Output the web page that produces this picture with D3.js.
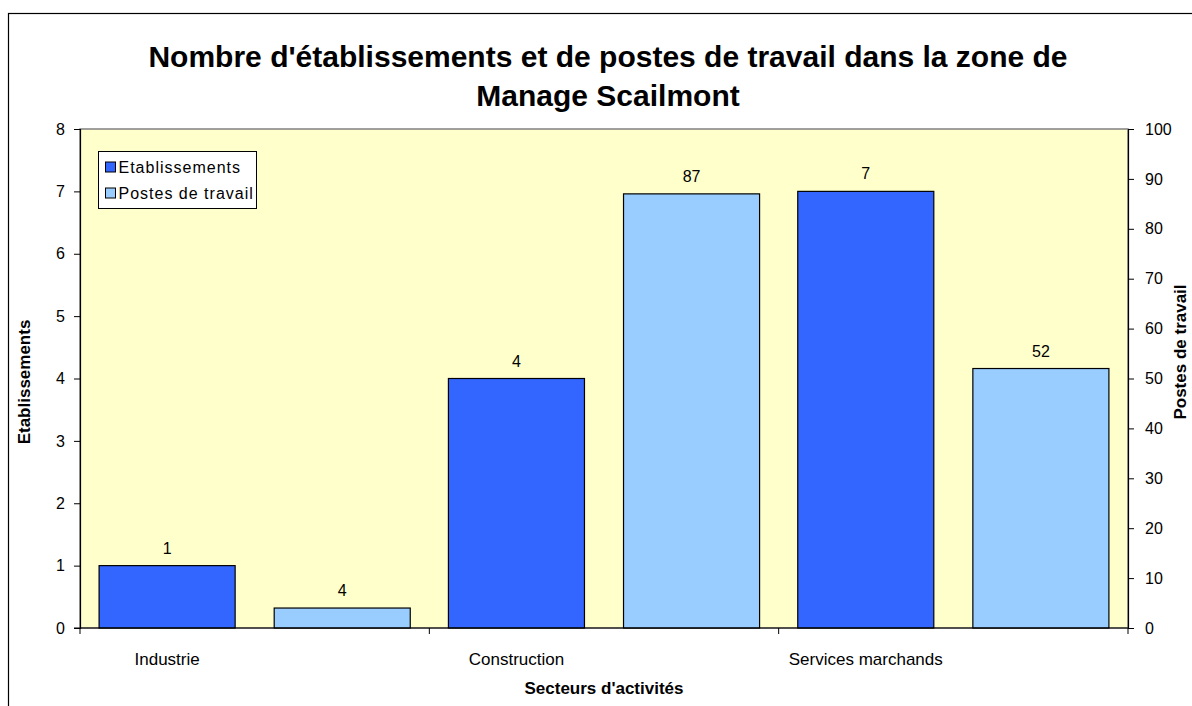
<!DOCTYPE html>
<html>
<head>
<meta charset="utf-8">
<script src="https://cdn.jsdelivr.net/npm/d3@7"></script>
<style>
  body { margin: 0; background: #fff; }
  text { font-family: "Liberation Sans", Arial, sans-serif; fill: #000; }
</style>
</head>
<body>
<div id="chart"></div>
<script>
// data
var categories = ["Industrie", "Construction", "Services marchands"];
var seriesNames = ["Etablissements", "Postes de travail"];
var etablissements = [1, 4, 7];
var postes = [4, 87, 52];
var leftTicks = [0, 1, 2, 3, 4, 5, 6, 7, 8];
var rightTicks = [0, 10, 20, 30, 40, 50, 60, 70, 80, 90, 100];

var width = 1192, height = 706;
var margin = {left: 80, right: 64, top: 129, bottom: 78};
var colors = ["#3366FF", "#99CCFF"];

var svg = d3.select("#chart").append("svg")
    .attr("width", width)
    .attr("height", height);

// outer chart border (runs off the right and bottom edge)
svg.append("rect")
    .attr("x", 8.5).attr("y", 13.5)
    .attr("width", 1300).attr("height", 800)
    .attr("fill", "none").attr("stroke", "#000").attr("stroke-width", 1.2);

var x0 = d3.scaleBand()
    .domain(categories)
    .range([margin.left, width - margin.right]);

var x1 = d3.scaleBand()
    .domain(seriesNames)
    .range([0, x0.bandwidth()])
    .paddingInner(0.223)
    .paddingOuter(0.109);

var yL = d3.scaleLinear().domain([0, 8]).range([height - margin.bottom, margin.top]);
var yR = d3.scaleLinear().domain([0, 100]).range([height - margin.bottom, margin.top]);

// plot area
svg.append("rect")
    .attr("x", margin.left).attr("y", margin.top)
    .attr("width", width - margin.left - margin.right)
    .attr("height", height - margin.top - margin.bottom)
    .attr("fill", "#FFFFCC")
    .attr("stroke", "#808080").attr("stroke-width", 1.5);

// title
svg.append("text")
    .attr("x", 608).attr("y", 67)
    .attr("text-anchor", "middle")
    .style("font-size", "30px").style("font-weight", "bold")
    .text("Nombre d'établissements et de postes de travail dans la zone de");
svg.append("text")
    .attr("x", 608).attr("y", 106)
    .attr("text-anchor", "middle")
    .style("font-size", "30px").style("font-weight", "bold")
    .text("Manage Scailmont");

// bars
var rows = categories.map(function(c, i) {
    return [
        {cat: c, s: seriesNames[0], v: etablissements[i], y: yL, color: colors[0]},
        {cat: c, s: seriesNames[1], v: postes[i], y: yR, color: colors[1]}
    ];
});

var groups = svg.selectAll("g.cat")
    .data(rows)
    .enter().append("g")
    .attr("class", "cat")
    .attr("transform", function(d, i) { return "translate(" + x0(categories[i]) + ",0)"; });

groups.selectAll("rect")
    .data(function(d) { return d; })
    .enter().append("rect")
    .attr("x", function(d) { return x1(d.s); })
    .attr("y", function(d) { return d.y(d.v); })
    .attr("width", x1.bandwidth())
    .attr("height", function(d) { return d.y(0) - d.y(d.v); })
    .attr("fill", function(d) { return d.color; })
    .attr("stroke", "#000").attr("stroke-width", 1.2);

groups.selectAll("text.val")
    .data(function(d) { return d; })
    .enter().append("text")
    .attr("class", "val")
    .attr("x", function(d) { return x1(d.s) + x1.bandwidth() / 2; })
    .attr("y", function(d) { return d.y(d.v) - 12; })
    .attr("text-anchor", "middle")
    .style("font-size", "16px")
    .text(function(d) { return d.v; });

// category labels, under the first bar of each group (as in the original)
groups.append("text")
    .attr("x", x1(seriesNames[0]) + x1.bandwidth() / 2)
    .attr("y", 665)
    .attr("text-anchor", "middle")
    .style("font-size", "17px")
    .text(function(d) { return d[0].cat; });

// axes
var axisL = svg.append("g")
    .attr("transform", "translate(" + margin.left + ",0)")
    .call(d3.axisLeft(yL).tickValues(leftTicks).tickSize(6).tickPadding(9));
var axisR = svg.append("g")
    .attr("transform", "translate(" + (width - margin.right) + ",0)")
    .call(d3.axisRight(yR).tickValues(rightTicks).tickSize(6).tickPadding(11));
[axisL, axisR].forEach(function(a) {
    a.select(".domain").attr("stroke", "#000").attr("stroke-width", 1.2);
    a.selectAll(".tick line").attr("stroke", "#000");
    a.selectAll(".tick text").style("font-size", "16px")
        .style("font-family", "'Liberation Sans', Arial, sans-serif").attr("fill", "#000");
});

// bottom axis line and category separators
var yBase = height - margin.bottom;
svg.append("line")
    .attr("x1", margin.left - 6).attr("x2", width - margin.right)
    .attr("y1", yBase).attr("y2", yBase)
    .attr("stroke", "#000").attr("stroke-width", 1.2);
var seps = categories.map(function(c) { return x0(c); }).concat([x0.range()[1]]);
svg.selectAll("line.sep")
    .data(seps)
    .enter().append("line")
    .attr("class", "sep")
    .attr("x1", function(d) { return d; }).attr("x2", function(d) { return d; })
    .attr("y1", yBase).attr("y2", yBase + 6)
    .attr("stroke", "#000");

// axis titles
svg.append("text")
    .attr("transform", "translate(30,382) rotate(-90)")
    .attr("text-anchor", "middle")
    .style("font-size", "17px").style("font-weight", "bold")
    .text("Etablissements");
svg.append("text")
    .attr("transform", "translate(1186,352) rotate(-90)")
    .attr("text-anchor", "middle")
    .style("font-size", "17px").style("font-weight", "bold")
    .text("Postes de travail");
svg.append("text")
    .attr("x", 604).attr("y", 694)
    .attr("text-anchor", "middle")
    .style("font-size", "17px").style("font-weight", "bold")
    .text("Secteurs d'activités");

// legend
var legend = svg.append("g").attr("transform", "translate(98.5,151.5)");
legend.append("rect")
    .attr("width", 158).attr("height", 57)
    .attr("fill", "#fff").attr("stroke", "#000");
var li = legend.selectAll("g.item")
    .data(seriesNames)
    .enter().append("g")
    .attr("class", "item")
    .attr("transform", function(d, i) { return "translate(7," + (15.5 + i * 26) + ")"; });
li.append("rect")
    .attr("x", 0).attr("y", -5)
    .attr("width", 10).attr("height", 10)
    .attr("fill", function(d, i) { return colors[i]; })
    .attr("stroke", "#000");
li.append("text")
    .attr("x", 13).attr("y", 5.5)
    .style("font-size", "16px").style("letter-spacing", "1px")
    .text(function(d) { return d; });
</script>
</body>
</html>
